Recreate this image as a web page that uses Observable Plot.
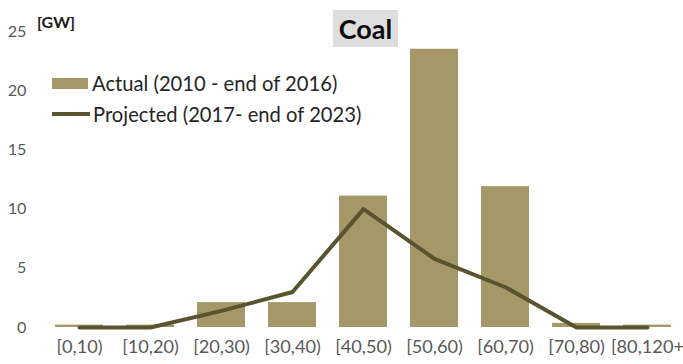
<!DOCTYPE html>
<html>
<head>
<meta charset="utf-8">
<script src="https://cdn.jsdelivr.net/npm/d3@7"></script>
<script src="https://cdn.jsdelivr.net/npm/@observablehq/plot@0.6"></script>
<style>
  html, body { margin: 0; padding: 0; background: #fff; }
  #chart { position: relative; width: 683px; height: 364px; font-family: Lato, "Open Sans", sans-serif; overflow: hidden; }
  #chart svg { display: block; }
  .unit { position: absolute; left: 35px; top: 12px; font-weight: 700; font-size: 16px; color: #1a1a1a; background: #fff; padding: 0 2px; line-height: 20px; }
  .title { position: absolute; left: 333px; top: 10px; width: 65px; height: 37px; background: #dedede; font-weight: 700; font-size: 27px; color: #0d0d0d; text-align: center; line-height: 37px; }
  .legend { position: absolute; left: 46px; top: 66px; width: 342px; height: 62px; background: #fff; color: #262626; font-size: 20.2px; }
  .item { position: absolute; left: 6px; display: flex; align-items: center; white-space: nowrap; }
  .sw-bar { width: 36px; height: 11px; background: #a59868; margin-right: 4px; }
  .sw-line { width: 38px; height: 4px; background: #59532f; margin-right: 3px; }
</style>
</head>
<body>
<div id="chart"></div>
<script>
// Age bands of coal capacity, in years
const bands = ["[0,10)", "[10,20)", "[20,30)", "[30,40)", "[40,50)", "[50,60)", "[60,70)", "[70,80)", "[80,120+"];
// Capacity retired 2010 - end of 2016, GW
const actual = [0.2, 0.2, 2.1, 2.1, 11.1, 23.5, 11.9, 0.35, 0.2];
// Capacity projected to retire 2017 - end of 2023, GW
const projected = [0, 0, 1.4, 3.0, 10.0, 5.8, 3.4, 0, 0];
const yTicks = [0, 5, 10, 15, 20, 25];

const seriesActual = "Actual (2010 - end of 2016)";
const seriesProjected = "Projected (2017- end of 2023)";

const rows = bands.map((b, i) => ({band: b, actual: actual[i], projected: projected[i]}));

const plot = Plot.plot({
  width: 683,
  height: 364,
  marginLeft: 44,
  marginRight: 0,
  marginTop: 31,
  marginBottom: 37,
  style: {fontFamily: "Lato, 'Open Sans', sans-serif", background: "#fff"},
  x: {domain: bands, paddingInner: 0.32, paddingOuter: 0.16, label: null},
  y: {domain: [0, 25], label: null},
  marks: [
    Plot.gridY(yTicks, {stroke: "#d9d9d9", strokeOpacity: 1, strokeWidth: 1.2, x1: 46}),
    Plot.barY(rows, {x: "band", y: "actual", fill: "#a59868"}),
    Plot.line(rows, {x: "band", y: "projected", stroke: "#59532f", strokeWidth: 4, strokeLinejoin: "round"}),
    Plot.axisY(yTicks, {tickSize: 0, tickPadding: 18, fontSize: 16.2, fill: "#595959", textAnchor: "end"}),
    Plot.axisX({tickSize: 0, tickPadding: 13, fontSize: 18.2, fill: "#595959"})
  ]
});

const chart = document.getElementById("chart");
chart.appendChild(plot);

const unit = document.createElement("div");
unit.className = "unit";
unit.textContent = "[GW]";
chart.appendChild(unit);

const title = document.createElement("div");
title.className = "title";
title.textContent = "Coal";
chart.appendChild(title);

const legend = document.createElement("div");
legend.className = "legend";
legend.innerHTML =
  `<div class="item" style="top:5px"><span class="sw-bar"></span><span>${seriesActual}</span></div>` +
  `<div class="item" style="top:36px"><span class="sw-line"></span><span>${seriesProjected}</span></div>`;
chart.appendChild(legend);
</script>
</body>
</html>
